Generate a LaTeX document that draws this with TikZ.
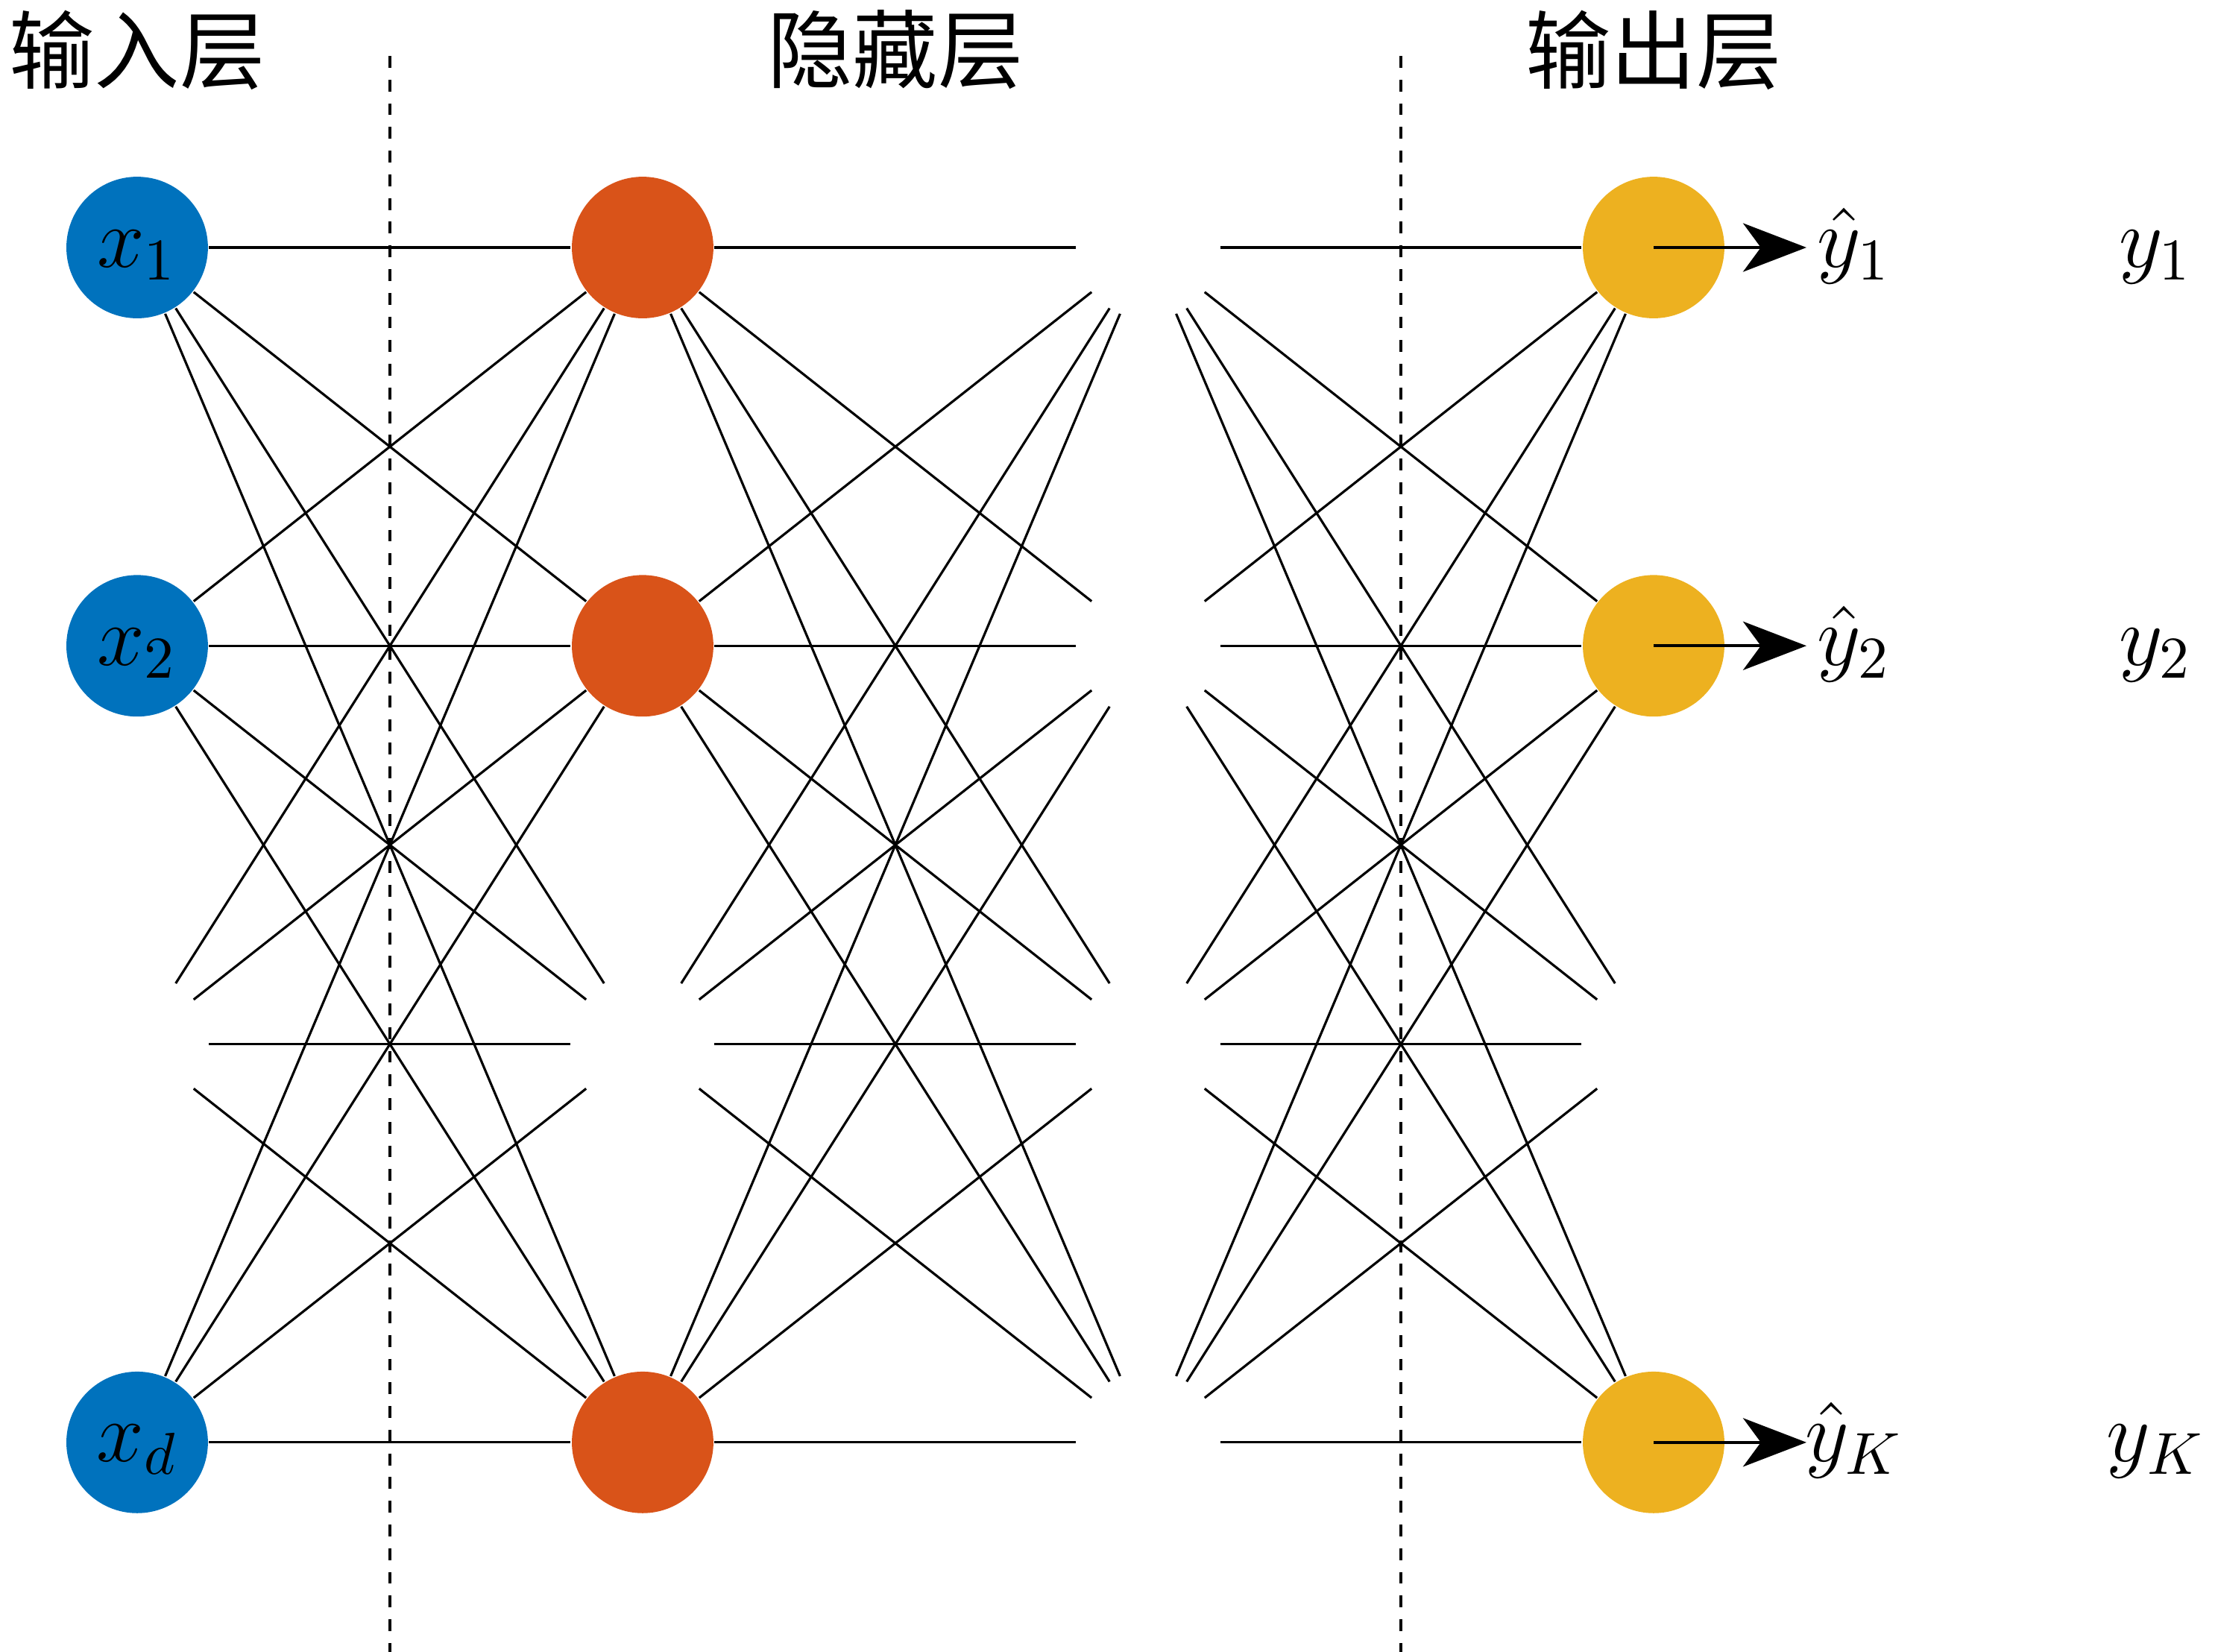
\documentclass[tikz,border=0pt]{standalone}
\usepackage{fontspec}
\newfontfamily\cjk{Noto Sans CJK SC}
\usetikzlibrary{arrows.meta}
\tikzset{>=latex}
\definecolor{inblue}{RGB}{0,114,189}
\definecolor{hidorange}{RGB}{217,83,25}
\definecolor{outyellow}{RGB}{237,177,32}
\tikzstyle{neuron}=[circle,minimum size=0.84cm,inner sep=0pt]
\tikzstyle{ghostnode}=[neuron]
\tikzstyle{innode}=[neuron,fill=inblue,text height=0.23cm,text depth=0pt]
\tikzstyle{hidnode}=[neuron,fill=hidorange]
\tikzstyle{outnode}=[neuron,fill=outyellow]
\tikzstyle{layerline}=[black,dash pattern=on 2pt off 2pt]
\tikzstyle{outarrow}=[line width=0.5pt,-{Stealth[length=10.7pt,width=8.2pt,inset=3pt]}]
\tikzstyle{title}=[font=\Large\cjk]

\begin{document}
\begin{tikzpicture}[font=\Large]
  \def\dx{3}      % layer spacing
  \def\dy{2.364}  % neuron spacing
  \def\xh{10.19}  % column of the predictions
  \def\xt{11.98}  % column of the targets

  % keep the margins of the page
  \useasboundingbox (-0.814,1.469) rectangle (12.332,-8.336);

  % dashed boundaries between the layers
  \draw[layerline] (0.5*\dx,1.137) -- (0.5*\dx,-8.336);
  \draw[layerline] (2.5*\dx,1.137) -- (2.5*\dx,-8.336);

  % layer titles
  \node[title] (tin)  at (0,1.173)      {输入层};
  \node[title] (thid) at (1.5*\dx,1.173) {隐藏层};
  \node[title] (tout) at (3*\dx,1.173)   {输出层};

  % visible neurons
  \foreach \j/\lab in {1/x_1,2/x_2,4/x_d}
    \node[innode] (n-1-\j) at (0,{-(\j-1)*\dy}) {$\lab$};
  \foreach \j in {1,2,4} {
    \node[hidnode] (n-2-\j) at (\dx,{-(\j-1)*\dy}) {};
    \node[outnode] (n-4-\j) at (3*\dx,{-(\j-1)*\dy}) {};
  }
  % invisible neurons for the dots
  \foreach \i in {1,2,4}
    \node[ghostnode] (n-\i-3) at ({(\i-1)*\dx},{-2*\dy}) {};
  \foreach \j in {1,...,4}
    \node[ghostnode] (n-3-\j) at (2*\dx,{-(\j-1)*\dy}) {};

  % full connections between neighbouring layers
  \foreach \i [evaluate=\i as \ii using int(\i+1)] in {1,2,3}
    \foreach \j in {1,...,4}
      \foreach \k in {1,...,4}
        \draw (n-\i-\j) -- (n-\ii-\k);

  % outputs and targets
  \foreach \j/\lab in {1/1,2/2,4/K} {
    \coordinate (tip-\j) at (3*\dx+0.907,{-(\j-1)*\dy});
    \draw[outarrow] (n-4-\j.center) -- (tip-\j);
    \node[anchor=base] (yhat-\j) at (\xh,{-(\j-1)*\dy-0.115}) {$\hat{y}_{\lab}$};
    \node[anchor=base] (y-\j)    at (\xt,{-(\j-1)*\dy-0.115}) {$y_{\lab}$};
  }
\end{tikzpicture}
\end{document}
